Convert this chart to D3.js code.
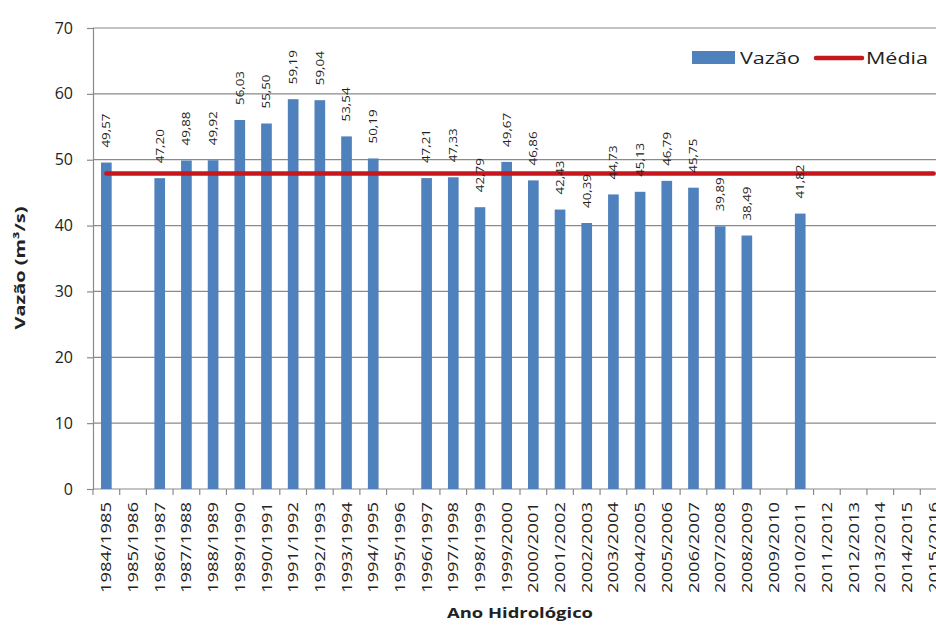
<!DOCTYPE html>
<html>
<head>
<meta charset="utf-8">
<script src="https://cdn.jsdelivr.net/npm/d3@7"></script>
<style>
  body { margin: 0; background: #fff; }
  svg { display: block; }
  text { font-family: "Open Sans", "Liberation Sans", sans-serif; fill: #222; }
</style>
</head>
<body>
<svg id="chart" width="936" height="626"></svg>
<script>
// Hydrological years (categories)
const anos = [
  "1984/1985", "1985/1986", "1986/1987", "1987/1988", "1988/1989", "1989/1990",
  "1990/1991", "1991/1992", "1992/1993", "1993/1994", "1994/1995", "1995/1996",
  "1996/1997", "1997/1998", "1998/1999", "1999/2000", "2000/2001", "2001/2002",
  "2002/2003", "2003/2004", "2004/2005", "2005/2006", "2006/2007", "2007/2008",
  "2008/2009", "2009/2010", "2010/2011", "2011/2012", "2012/2013", "2013/2014",
  "2014/2015", "2015/2016"
];

// Mean annual flow (m³/s); null = no data
const vazao = [
  49.57, null, 47.20, 49.88, 49.92, 56.03,
  55.50, 59.19, 59.04, 53.54, 50.19, null,
  47.21, 47.33, 42.79, 49.67, 46.86, 42.43,
  40.39, 44.73, 45.13, 46.79, 45.75, 39.89,
  38.49, null, 41.82, null, null, null,
  null, null
];

// Long-term mean flow
const media = 47.89;

// Value-axis ticks
const yTicks = [0, 10, 20, 30, 40, 50, 60, 70];

const svg = d3.select("#chart");
const plot = { left: 93, right: 947, top: 28, bottom: 489 };

const x = d3.scaleBand()
  .domain(anos)
  .range([plot.left, plot.right])
  .paddingInner(0.6)
  .paddingOuter(0.3);

const y = d3.scaleLinear()
  .domain([0, 70])
  .range([plot.bottom, plot.top]);

const step = x.step();
const bw = x.bandwidth();
const cx = d => x(d) + bw / 2;

const ptBR = d3.formatLocale({ decimal: ",", thousands: ".", grouping: [3], currency: ["R$", ""] });
const fmt = ptBR.format(".2f");

const gridColor = "#8a8a8a";

// Horizontal gridlines
svg.append("g")
  .selectAll("line")
  .data(yTicks.filter(t => t > 0))
  .join("line")
  .attr("x1", plot.left).attr("x2", plot.right)
  .attr("y1", d => y(d)).attr("y2", d => y(d))
  .attr("stroke", gridColor).attr("stroke-width", 1.2);

// Value axis
const yAxis = svg.append("g")
  .attr("transform", `translate(${plot.left},0)`)
  .call(d3.axisLeft(y).tickValues(yTicks).tickSize(6).tickPadding(14).tickFormat(d3.format("d")));
yAxis.select(".domain").attr("stroke", gridColor).attr("stroke-width", 1.2);
yAxis.selectAll(".tick line").attr("stroke", gridColor).attr("stroke-width", 1.2);
yAxis.selectAll(".tick text")
  .style("font-family", "'Open Sans', sans-serif")
  .style("font-size", "16px")
  .attr("fill", "#333");

// Category axis line and ticks between categories
const boundaries = d3.range(anos.length + 1).map(i => plot.left + i * step);
svg.append("line")
  .attr("x1", plot.left).attr("x2", plot.right)
  .attr("y1", y(0)).attr("y2", y(0))
  .attr("stroke", gridColor).attr("stroke-width", 1.2);
svg.append("g")
  .selectAll("line")
  .data(boundaries)
  .join("line")
  .attr("x1", d => d).attr("x2", d => d)
  .attr("y1", y(0)).attr("y2", y(0) + 6)
  .attr("stroke", gridColor).attr("stroke-width", 1.2);

// Bars
const barData = anos.map((a, i) => ({ ano: a, v: vazao[i] })).filter(d => d.v != null);
svg.append("g")
  .selectAll("rect")
  .data(barData)
  .join("rect")
  .attr("x", d => x(d.ano))
  .attr("width", bw)
  .attr("y", d => y(d.v))
  .attr("height", d => y(0) - y(d.v))
  .attr("fill", "#4f81bd");

// Mean line
svg.append("line")
  .attr("x1", cx(anos[0])).attr("x2", cx(anos[anos.length - 1]))
  .attr("y1", y(media)).attr("y2", y(media))
  .attr("stroke", "#c8161d").attr("stroke-width", 4.5)
  .attr("stroke-linecap", "round");

// Value labels above bars
svg.append("g")
  .selectAll("text")
  .data(barData)
  .join("text")
  .attr("transform", d => `translate(${cx(d.ano)},${y(d.v) - 15}) rotate(-90)`)
  .attr("dy", "0.35em")
  .attr("text-anchor", "start")
  .attr("textLength", 34)
  .attr("lengthAdjust", "spacingAndGlyphs")
  .style("font-size", "11px")
  .attr("fill", "#111")
  .text(d => fmt(d.v));

// Category labels
svg.append("g")
  .selectAll("text")
  .data(anos)
  .join("text")
  .attr("transform", d => `translate(${cx(d)},${y(0) + 13}) rotate(-90)`)
  .attr("dy", "0.36em")
  .attr("text-anchor", "end")
  .attr("textLength", 91)
  .attr("lengthAdjust", "spacingAndGlyphs")
  .style("font-size", "14px")
  .attr("fill", "#222")
  .text(d => d);

// Axis titles
svg.append("text")
  .attr("x", (plot.left + plot.right) / 2)
  .attr("y", 618)
  .attr("text-anchor", "middle")
  .attr("textLength", 146)
  .attr("lengthAdjust", "spacingAndGlyphs")
  .style("font-size", "15px")
  .style("font-weight", "bold")
  .text("Ano Hidrológico");

svg.append("text")
  .attr("transform", `translate(25,268) rotate(-90)`)
  .attr("text-anchor", "middle")
  .attr("textLength", 123)
  .attr("lengthAdjust", "spacingAndGlyphs")
  .style("font-size", "14px")
  .style("font-weight", "bold")
  .text("Vazão  (m³/s)");

// Legend
const legend = svg.append("g");
legend.append("rect")
  .attr("x", 692).attr("y", 51).attr("width", 43).attr("height", 13)
  .attr("fill", "#4f81bd");
legend.append("text")
  .attr("x", 740).attr("y", 63.5)
  .attr("textLength", 60)
  .attr("lengthAdjust", "spacingAndGlyphs")
  .style("font-size", "16.5px")
  .attr("fill", "#333")
  .text("Vazão");
legend.append("line")
  .attr("x1", 816).attr("x2", 862)
  .attr("y1", 58).attr("y2", 58)
  .attr("stroke", "#c8161d").attr("stroke-width", 4.5)
  .attr("stroke-linecap", "round");
legend.append("text")
  .attr("x", 866).attr("y", 63.5)
  .attr("textLength", 62)
  .attr("lengthAdjust", "spacingAndGlyphs")
  .style("font-size", "16.5px")
  .attr("fill", "#333")
  .text("Média");
</script>
</body>
</html>
